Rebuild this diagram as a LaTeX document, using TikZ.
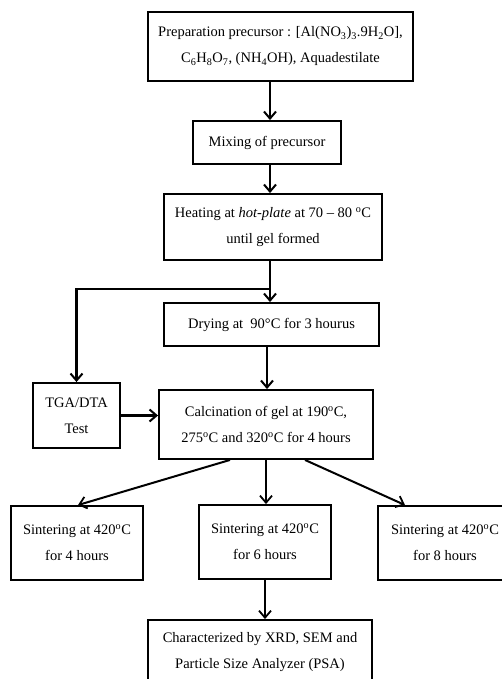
\documentclass[tikz,border=0pt]{standalone}
\usepackage{fontspec}
\setmainfont{Liberation Serif}
\usetikzlibrary{arrows.meta}
\begin{document}
\begin{tikzpicture}[x=1pt,y=1pt,
  box/.style={draw,line width=1.9pt,align=center,inner sep=0pt,font=\fontsize{14.5}{26}\selectfont},
  arr/.style={line width=2.4pt,-{Straight Barb[length=7pt,width=12pt,line width=2pt]}},
  arrt/.style={line width=2pt,-{Straight Barb[length=7pt,width=12pt,line width=1.8pt]}}]
\useasboundingbox (0,0) rectangle (502,-679);
\clip (0,0) rectangle (502,-679);
\fill[white] (0,0) rectangle (502,-679);
\node[box,minimum width=265,minimum height=69] (p1) at (280.5,-46.5)
  {Preparation precursor : [Al(NO\textsubscript{3})\textsubscript{3}.9H\textsubscript{2}O],\\C\textsubscript{6}H\textsubscript{8}O\textsubscript{7}, (NH\textsubscript{4}OH), Aquadestilate};
\node[box,minimum width=148,minimum height=43] (mix) at (267,-142.5) {Mixing of precursor};
\node[box,minimum width=218,minimum height=66] (heat) at (273,-227)
  {Heating at \textit{hot-plate} at 70 -- 80 \textsuperscript{o}C\\until gel formed};
\node[box,minimum width=215,minimum height=43] (dry) at (271.5,-324.5) {Drying at~ 90°C for 3 hourus};
\node[box,minimum width=87,minimum height=65] (tga) at (76.5,-415.5) {TGA/DTA\\Test};
\node[box,minimum width=214,minimum height=69] (calc) at (266,-424.5)
  {Calcination of gel at 190\textsuperscript{o}C,\\275\textsuperscript{o}C and 320\textsuperscript{o}C for 4 hours};
\node[box,minimum width=132,minimum height=74] (s1) at (77,-543) {Sintering at 420\textsuperscript{o}C\\for 4 hours};
\node[box,minimum width=132,minimum height=74] (s2) at (265,-542) {Sintering at 420\textsuperscript{o}C\\for 6 hours};
\node[box,minimum width=134,minimum height=74] (s3) at (445,-543) {Sintering at 420\textsuperscript{o}C\\for 8 hours};
\node[box,minimum width=224,minimum height=64] (fin) at (260,-652)
  {Characterized by XRD, SEM and\\Particle Size Analyzer (PSA)};
\coordinate (br) at (270,-289);
\draw[arr] (p1.south -| 270,0) -- (mix.north -| 270,0);
\draw[arr] (mix.south -| 270,0) -- (heat.north -| 270,0);
\draw[arr] (heat.south -| 270,0) -- (dry.north -| 270,0);
\draw[arr] (br) -| (tga.north);
\draw[arr] (dry.south -| 267,0) -- (calc.north -| 267,0);
\draw[arr] (tga.east) -- (calc.west |- tga.east);
\draw[arrt] (calc.south -| 230,0) -- (s1.north -| 78,0);
\draw[arrt] (calc.south -| 266,0) -- (s2.north -| 266,0);
\draw[arrt] (calc.south -| 305,0) -- (s3.north -| 405,0);
\draw[arrt] (s2.south -| 265,0) -- (fin.north -| 265,0);
\end{tikzpicture}
\end{document}
